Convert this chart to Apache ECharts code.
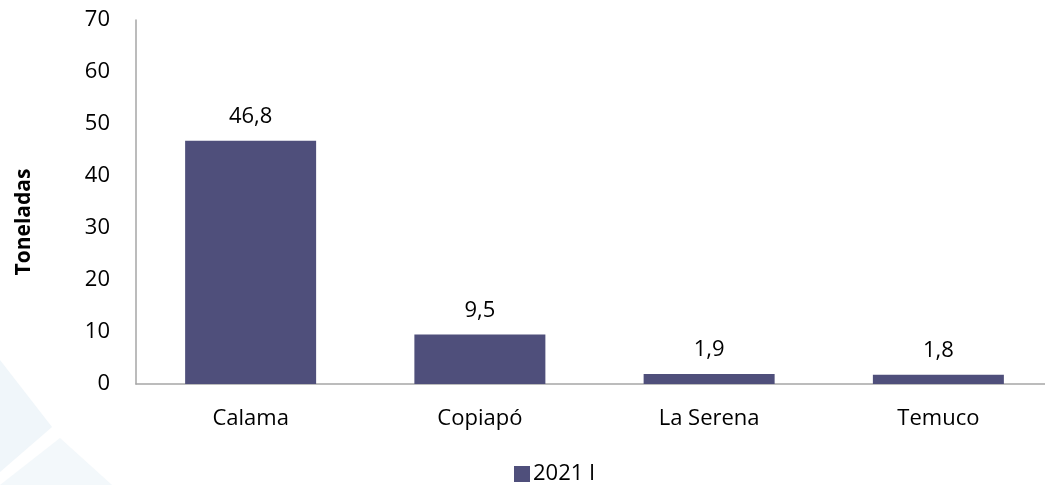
<!DOCTYPE html>
<html>
<head>
<meta charset="utf-8">
<script src="https://cdn.jsdelivr.net/npm/echarts@6/dist/echarts.min.js"></script>
<style>
  html, body { margin: 0; padding: 0; background: #fff; }
  #chart { width: 1045px; height: 485px; }
</style>
</head>
<body>
<div id="chart"></div>
<script>
// data
const cities = ['Calama', 'Copiapó', 'La Serena', 'Temuco']
const tonnes2021 = [46.8, 9.5, 1.9, 1.8]
const seriesName = '2021 I'
const yTitle = 'Toneladas'

const barColor = '#4f4f7b'
const axisGray = '#a6a6a6'
const font = 'Open Sans'

const chart = echarts.init(document.getElementById('chart'))

chart.setOption({
  backgroundColor: '#fff',
  animation: false,
  textStyle: { fontFamily: font, color: '#000' },
  graphic: [
    // faint watermark shapes, bottom left
    { type: 'polygon', z: -1, shape: { points: [[0, 360], [52, 427], [0, 472]] }, style: { fill: '#f0f6fa' } },
    { type: 'polygon', z: -1, shape: { points: [[0, 485], [60, 438], [112, 485]] }, style: { fill: '#f3f8fb' } },
    {
      type: 'text', x: 24, y: 222, rotation: Math.PI / 2,
      style: { text: yTitle, font: 'bold 21px "Open Sans"', fill: '#000', align: 'center', verticalAlign: 'middle' }
    }
  ],
  legend: {
    top: 458,
    left: 509,
    itemWidth: 16,
    itemHeight: 16,
    itemGap: 5,
    icon: 'rect',
    textStyle: { fontSize: 22, fontFamily: font, color: '#000', padding: [0, 0, 0, -2] },
    data: [seriesName]
  },
  grid: { left: 136, width: 917, top: 20, bottom: 101, outerBoundsMode: 'none', containLabel: false },
  xAxis: {
    type: 'category',
    data: cities,
    axisLine: { lineStyle: { color: axisGray, width: 1.5 } },
    axisTick: { show: false },
    axisLabel: { fontSize: 22, margin: 24, color: '#000' }
  },
  yAxis: {
    type: 'value',
    min: 0,
    max: 70,
    interval: 10,
    axisLine: { show: true, lineStyle: { color: axisGray, width: 1.5 } },
    axisTick: { show: false },
    splitLine: { show: false },
    axisLabel: { fontSize: 22, margin: 26, color: '#000' }
  },
  series: [{
    name: seriesName,
    type: 'bar',
    data: tonnes2021,
    barWidth: 131,
    itemStyle: { color: barColor },
    label: {
      show: true,
      position: 'top',
      distance: 13,
      fontSize: 22,
      color: '#000',
      formatter: p => String(p.value).replace('.', ',')
    }
  }]
})
</script>
</body>
</html>
